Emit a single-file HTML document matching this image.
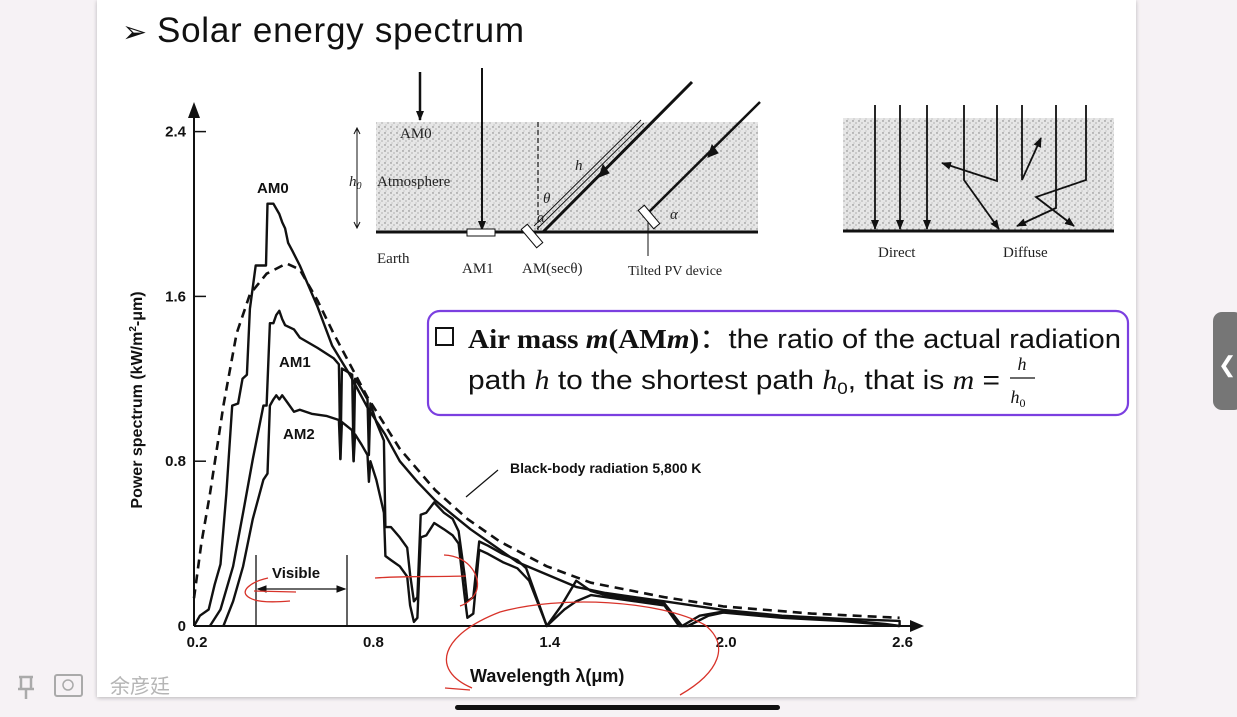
<!DOCTYPE html>
<html><head><meta charset="utf-8"><style>
html,body{margin:0;padding:0;width:1237px;height:717px;overflow:hidden;background:#f6f2f5;font-family:"Liberation Sans","Noto Sans CJK SC",sans-serif}
#slide{position:absolute;left:97px;top:0;width:1039px;height:697px;background:#fff;box-shadow:0 1px 4px rgba(0,0,0,.25)}
svg{position:absolute;left:0;top:0}
</style></head><body>
<div id="slide"></div>
<svg id="chart" width="1237" height="717">
<defs>
<pattern id="stip" width="6" height="6" patternUnits="userSpaceOnUse"><rect width="6" height="6" fill="#e6e6e6"/><circle cx="1" cy="1" r="0.7" fill="#777"/><circle cx="4" cy="3" r="0.6" fill="#888"/><circle cx="2" cy="5" r="0.5" fill="#999"/></pattern>
<marker id="ah" markerWidth="10" markerHeight="10" refX="9" refY="5" orient="auto" markerUnits="userSpaceOnUse"><path d="M0,1 L10,5 L0,9 Z" fill="#111"/></marker>
</defs>
<text x="122" y="42" font-size="35" fill="#111"><tspan font-size="30">➢</tspan> <tspan x="157" textLength="367">Solar energy spectrum</tspan></text>

<!-- diagram left -->
<g fill="none" stroke="#111">
<rect x="376" y="122" width="382" height="110" fill="url(#stip)" stroke="none"/>
<line x1="376" y1="232" x2="758" y2="232" stroke-width="3"/>
<line x1="420" y1="72" x2="420" y2="120" stroke-width="2.5" marker-end="url(#ah)"/>
<line x1="482" y1="68" x2="482" y2="230" stroke-width="2" marker-end="url(#ah)"/>
<rect x="467" y="229" width="28" height="7" fill="#fff" stroke-width="1"/>
<line x1="538" y1="122" x2="538" y2="230" stroke-width="1.2" stroke-dasharray="5,3"/>
<line x1="543" y1="232" x2="692" y2="82" stroke-width="3"/>
<path d="M603,165 l-4,12 l10,-4 z" fill="#111"/>
<line x1="534" y1="226" x2="641" y2="120" stroke-width="1"/>
<line x1="537" y1="229" x2="644" y2="123" stroke-width="1"/>
<rect x="528" y="224" width="8" height="24" fill="#fff" stroke-width="1" transform="rotate(-40 532 236)"/>
<line x1="760" y1="102" x2="648" y2="213" stroke-width="2.5"/>
<path d="M712,145 l-4,12 l10,-4 z" fill="#111"/>
<rect x="645" y="205" width="8" height="24" fill="#fff" stroke-width="1" transform="rotate(-40 649 217)"/>
<line x1="648" y1="222" x2="648" y2="256" stroke-width="1"/>
<line x1="357" y1="128" x2="357" y2="228" stroke-width="1"/>
<path d="M354,134 l3,-6 l3,6 M354,222 l3,6 l3,-6"/>
</g>
<g font-family="Liberation Serif,serif" font-size="15" fill="#222">
<text x="400" y="138">AM0</text><text x="377" y="186">Atmosphere</text>
<text x="349" y="186" font-style="italic">h<tspan font-size="10" dy="3">0</tspan></text>
<text x="377" y="263">Earth</text><text x="462" y="273">AM1</text><text x="522" y="273">AM(secθ)</text>
<text x="628" y="275" font-size="14">Tilted PV device</text>
<text x="575" y="170" font-style="italic">h</text><text x="543" y="203" font-style="italic">θ</text>
<text x="537" y="222" font-style="italic">α</text><text x="670" y="219" font-style="italic">α</text>
<text x="878" y="257">Direct</text><text x="1003" y="257">Diffuse</text>
</g>
<!-- diagram right -->
<g fill="none" stroke="#111" stroke-width="1.8">
<rect x="843" y="118" width="271" height="113" fill="url(#stip)" stroke="none"/>
<line x1="843" y1="231" x2="1114" y2="231" stroke-width="3"/>
<line x1="875" y1="105" x2="875" y2="229" marker-end="url(#ah)"/>
<line x1="900" y1="105" x2="900" y2="229" marker-end="url(#ah)"/>
<line x1="927" y1="105" x2="927" y2="229" marker-end="url(#ah)"/>
<polyline points="964,105 964,180 999,229" marker-end="url(#ah)"/>
<polyline points="997,105 997,181 942,163" marker-end="url(#ah)"/>
<polyline points="1022,105 1022,180 1041,138" marker-end="url(#ah)"/>
<polyline points="1056,105 1056,208 1017,226" marker-end="url(#ah)"/>
<polyline points="1086,105 1086,180 1036,197 1074,226" marker-end="url(#ah)"/>
</g>

<g id="axes" stroke="#111" fill="none" stroke-width="2"></g>
<g id="series" fill="none" stroke="#111"></g>
<g font-weight="bold" fill="#111" font-size="15">
<text x="257" y="193">AM0</text>
<text x="279" y="367">AM1</text>
<text x="283" y="439">AM2</text>
<text x="272" y="578">Visible</text>
<text x="510" y="473" font-size="14">Black-body radiation 5,800 K</text>
<text x="470" y="682" font-size="18">Wavelength λ(μm)</text>
<text transform="translate(142,400) rotate(-90)" text-anchor="middle" font-size="16">Power spectrum (kW/m<tspan font-size="10" dy="-6">2</tspan><tspan dy="6">-μm)</tspan></text>
</g>
<g stroke="#111" fill="none">
<line x1="256" y1="555" x2="256" y2="625" stroke-width="1.3"/>
<line x1="347" y1="555" x2="347" y2="625" stroke-width="1.3"/>
<line x1="258" y1="589" x2="345" y2="589" stroke-width="1.3"/>
<path d="M258,589 l8,-3 v6z M345,589 l-8,-3 v6z" fill="#111"/>
<line x1="498" y1="470" x2="466" y2="497" stroke-width="1.2"/>
</g>
<g stroke="#d8332a" fill="none" stroke-width="1.3">
<path d="M268,578 C250,582 238,592 250,598 C258,603 278,602 290,601"/>
<line x1="254" y1="591" x2="296" y2="592"/>
<path d="M375,578 C400,576 430,577 466,576"/>
<path d="M444,555 C470,556 482,578 476,592 C472,600 466,604 460,606"/>
<path d="M472,688 C430,670 440,635 500,612 C560,595 660,600 705,625 C730,645 720,672 680,695"/>
<path d="M470,690 L445,688"/>
</g>

<rect x="428" y="311" width="700" height="104" rx="12" fill="#fff" stroke="#7b3fe0" stroke-width="2.2"/>
<g fill="#111">
<rect x="436" y="328" width="17" height="17" fill="none" stroke="#111" stroke-width="2"/>
<text x="468" y="348" font-size="27" textLength="653" lengthAdjust="spacingAndGlyphs"><tspan font-family="Liberation Serif,serif" font-weight="bold">Air mass <tspan font-style="italic">m</tspan>(AM<tspan font-style="italic">m</tspan>)</tspan>：the ratio of the actual radiation</text>
<text x="468" y="389" font-size="27" textLength="532" lengthAdjust="spacingAndGlyphs">path <tspan font-family="Liberation Serif,serif" font-style="italic">h</tspan> to the shortest path <tspan font-family="Liberation Serif,serif" font-style="italic">h</tspan><tspan font-size="17" dy="5">0</tspan><tspan dy="-5">, that is </tspan><tspan font-family="Liberation Serif,serif" font-style="italic">m</tspan> =</text>
<text x="1022" y="370" font-size="18" font-family="Liberation Serif,serif" font-style="italic" text-anchor="middle">h</text>
<line x1="1010" y1="378" x2="1035" y2="378" stroke="#111" stroke-width="1.2"/>
<text x="1018" y="403" font-size="18" font-family="Liberation Serif,serif" font-style="italic" text-anchor="middle">h<tspan font-size="12" dy="4" font-style="normal">0</tspan></text>
</g>

<rect x="1213" y="312" width="30" height="98" rx="9" fill="#767676"/>
<text x="1218" y="372" font-size="22" fill="#fff">❮</text>
<g>
<path d="M19,677 h14 M21,677 v12 M31,677 v12 M18,689 h16 M26,689 v10" stroke="#aaa" stroke-width="2.5" fill="none"/>
<rect x="55" y="675" width="27" height="21" rx="2" fill="none" stroke="#aaa" stroke-width="2"/>
<circle cx="68" cy="685" r="5" fill="none" stroke="#aaa" stroke-width="1.5"/>
<text x="110" y="693" font-size="20" fill="#b5b5b5" font-family="'Noto Sans CJK SC',sans-serif">余彦廷</text>
</g>
<rect x="455" y="705" width="325" height="5" rx="2.5" fill="#111"/>
</svg>
<script>
const xTicks=[0.2,0.8,1.4,2.0,2.6];
const xTickLabels=["0.2","0.8","1.4","2.0","2.6"];
const yTicks=[0,0.8,1.6,2.4];
const yTickLabels=["0","0.8","1.6","2.4"];
const am0W=[0.2,0.22,0.25,0.27,0.29,0.31,0.33,0.35,0.365,0.38,0.39,0.41,0.445,0.45,0.47,0.49,0.5,0.51,0.52,0.535,0.56,0.62,0.67,0.73,0.79,0.85,0.9,0.96,1.02,1.08,1.14,1.2,1.3,1.4,1.5,1.6,1.8,2.0,2.2,2.4,2.6,2.6];
const am0V=[0,0.05,0.08,0.2,0.3,0.64,1.07,1.08,1.2,1.22,1.54,1.75,1.75,2.05,2.05,2.0,1.96,1.93,1.86,1.82,1.75,1.55,1.36,1.22,1.06,0.93,0.8,0.7,0.61,0.54,0.47,0.41,0.31,0.25,0.19,0.16,0.12,0.078,0.05,0.035,0.025,0];
const bbW=[0.2,0.225,0.254,0.28,0.3,0.345,0.39,0.447,0.515,0.56,0.62,0.675,0.79,0.9,1.02,1.13,1.24,1.4,1.55,1.8,2.0,2.3,2.6];
const bbV=[0.135,0.4,0.64,0.88,1.07,1.42,1.61,1.71,1.76,1.73,1.58,1.42,1.11,0.86,0.66,0.52,0.41,0.29,0.21,0.14,0.095,0.06,0.04];
const am1W=[0.254,0.29,0.333,0.367,0.4,0.436,0.447,0.458,0.47,0.48,0.49,0.5,0.51,0.54,0.56,0.62,0.675,0.693,0.698,0.703,0.738,0.743,0.748,0.77,0.79,0.795,0.8,0.82,0.846,0.851,0.87,0.9,0.925,0.935,0.948,0.96,0.971,0.99,1.017,1.05,1.08,1.1,1.12,1.13,1.15,1.17,1.2,1.25,1.3,1.33,1.4,1.45,1.5,1.55,1.6,1.7,1.8,1.86,1.92,2.0,2.2,2.4,2.55,2.6];
const am1V=[0,0.08,0.29,0.55,0.81,1.07,1.07,1.47,1.47,1.51,1.53,1.49,1.46,1.44,1.4,1.35,1.3,1.27,0.81,1.25,1.22,0.8,1.2,1.15,1.1,0.83,1.08,0.99,0.9,0.48,0.48,0.43,0.38,0.25,0.12,0.14,0.54,0.55,0.6,0.55,0.52,0.46,0.25,0.12,0.14,0.41,0.39,0.35,0.32,0.28,0,0.1,0.22,0.17,0.15,0.13,0.11,0,0.05,0.07,0.045,0.03,0.01,0];
const am2W=[0.3,0.333,0.367,0.4,0.436,0.45,0.458,0.47,0.48,0.49,0.5,0.52,0.54,0.56,0.6,0.65,0.693,0.698,0.703,0.738,0.743,0.748,0.77,0.79,0.795,0.8,0.82,0.846,0.851,0.87,0.9,0.925,0.935,0.948,0.96,0.971,0.99,1.017,1.05,1.08,1.1,1.12,1.13,1.15,1.17,1.2,1.25,1.3,1.34,1.4,1.46,1.5,1.55,1.7,1.8,1.85,1.88,1.95,2.0,2.2,2.4,2.6];
const am2V=[0,0.12,0.29,0.52,0.71,0.74,1.07,1.1,1.12,1.1,1.12,1.08,1.04,1.05,1.03,1.02,1.0,0.81,0.99,0.95,0.8,0.93,0.88,0.83,0.7,0.8,0.71,0.55,0.34,0.32,0.29,0.24,0.1,0.02,0.04,0.43,0.44,0.5,0.47,0.44,0.4,0.15,0.04,0.06,0.37,0.35,0.31,0.28,0.22,0,0.08,0.12,0.15,0.12,0.1,0,0,0.05,0.065,0.04,0.025,0];
const X=w=>194+(w-0.2)*294;
const Y=v=>626-v*206;
const NS='http://www.w3.org/2000/svg';
const ax=document.getElementById('axes');
function mk(tag,attrs,parent){const e=document.createElementNS(NS,tag);for(const k in attrs)e.setAttribute(k,attrs[k]);parent.appendChild(e);return e;}
const ya=mk('line',{x1:X(0.2),y1:Y(0),x2:X(0.2),y2:112},ax);


const yh=mk('path',{d:`M${X(0.2)-6},118 L${X(0.2)},102 L${X(0.2)+6},118 Z`,fill:'#111',stroke:'none'},ax);


const xa=mk('line',{x1:X(0.2),y1:Y(0),x2:915,y2:Y(0)},ax);


const xh=mk('path',{d:`M910,${Y(0)-6} L924,${Y(0)} L910,${Y(0)+6} Z`,fill:'#111',stroke:'none'},ax);


yTicks.forEach((t,i)=>{
  if(t>0){const tk=mk('line',{x1:X(0.2),y1:Y(t),x2:X(0.2)+12,y2:Y(t),'stroke-width':1.5},ax);
  
  }
  const tl=mk('text',{x:186,y:Y(t)+5,'text-anchor':'end','font-size':15,'font-weight':'bold',fill:'#111',stroke:'none'},ax);
  tl.textContent=yTickLabels[i];
  
  
});
xTicks.forEach((t,i)=>{
  const tl=mk('text',{x:X(t)+3,y:647,'text-anchor':'middle','font-size':15,'font-weight':'bold',fill:'#111',stroke:'none'},ax);
  tl.textContent=xTickLabels[i];
  
  
});
const sg=document.getElementById('series');
function line(W,V,name,extra){
  const pts=W.map((w,i)=>X(w).toFixed(1)+','+Y(V[i]).toFixed(1)).join(' ');
  const p=mk('polyline',Object.assign({points:pts,'stroke-width':2.4,'stroke-linejoin':'round'},extra||{}),sg);
  
  
}
line(bbW,bbV,'blackbody-line',{'stroke-dasharray':'9,6','stroke-width':2.6});
line(am0W,am0V,'am0-line');
line(am1W,am1V,'am1-line');
line(am2W,am2V,'am2-line');
</script>
</body></html>
